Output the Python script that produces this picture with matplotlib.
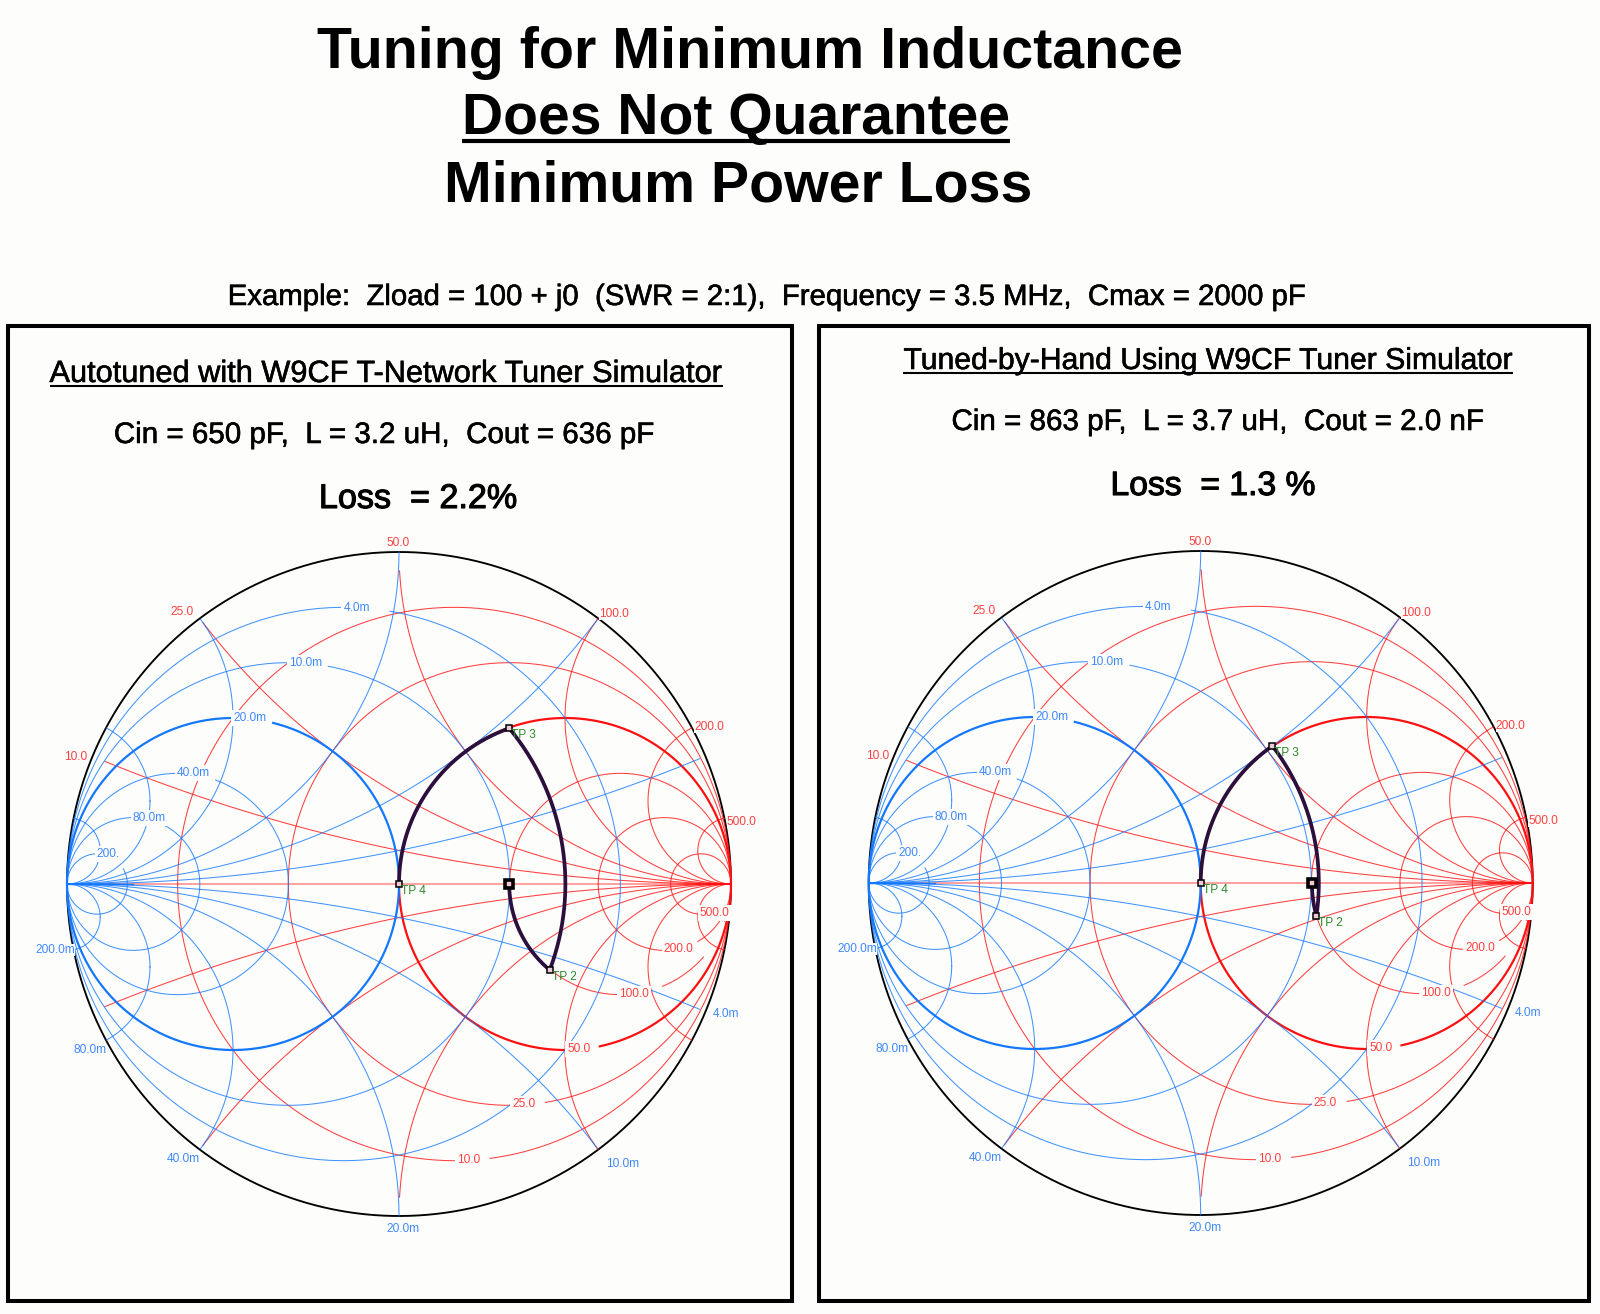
import numpy as np
import matplotlib
matplotlib.use("Agg")
import matplotlib.pyplot as plt
import matplotlib.patheffects as pe
from matplotlib.lines import Line2D
from matplotlib.patches import Rectangle

plt.rcParams["font.family"] = ["Liberation Sans", "DejaVu Sans"]

W, H = 1600, 1314
BG = "#fdfefc"
RED = "#ff1010"
BLUE = "#1478ff"
RED_TXT = "#ff4040"
BLUE_TXT = "#4088ff"
GREEN_TXT = "#2a8a2a"
TRACE = "#2c0f3c"

# Smith chart grid, normalised to 50 ohm / 20 mS
resistance = [0.2, 0.5, 1, 2, 4, 10]
resistance_labels = ["10.0", "25.0", "50.0", "100.0", "200.0", "500.0"]
reactance = [0.2, 0.5, 1, 2, 4, 10]
reactance_labels = ["10.0", "25.0", "50.0", "100.0", "200.0", "500.0"]
conductance = [0.2, 0.5, 1, 2, 4, 10]
conductance_labels = ["4.0m", "10.0m", "20.0m", "40.0m", "80.0m", "200."]
susceptance = [0.2, 0.5, 1, 2, 4, 10]
susceptance_labels = ["4.0m", "10.0m", "20.0m", "40.0m", "80.0m", "200.0m"]

# Tuner test points, as reflection coefficient (re, im)
left_tp4 = (0.0, 0.0)
left_tp3 = (0.332, 0.469)
left_tp2 = (0.454, -0.259)
left_load = (0.332, 0.0)

right_tp4 = (0.0, 0.0)
right_tp3 = (0.216, 0.413)
right_tp2 = (0.3485, -0.0994)
right_load = (0.335, 0.0)

# where each circle picks up again after its label (degrees)
r_gap = [-82.6, -80.7, -77.9, -67.6, -60, -10]
g_gap = [80.4, 79.6, 76, 70, 62, 30]

# label offsets in pixels from the point on the grid
x_offsets = [(-17, -1), (-18, 6), (-1, 9), (16, 4), (17, 1), (17, -4)]
b_offsets = [(21, -2), (24, -14), (4, -13), (-16, -9), (-16, -10), (-18, 0)]
g_offsets = [(13, -1), (17, 0), (17, 0), (16, 0), (16, 0), (11, 0)]


def circle(cx, cy, rad, start=0.0, stop=360.0):
    t = np.radians(np.linspace(start, stop, 720))
    return cx + rad * np.cos(t), cy + rad * np.sin(t)


def inside(xs, ys, limit=1.0):
    keep = xs ** 2 + ys ** 2 <= limit ** 2
    return np.where(keep, xs, np.nan), np.where(keep, ys, np.nan)


def arc_between(p, q):
    # circle through p and q with its centre on the real axis
    c = (p[0] ** 2 + p[1] ** 2 - q[0] ** 2 - q[1] ** 2) / (2 * (p[0] - q[0]))
    rad = np.hypot(p[0] - c, p[1])
    a = np.arctan2([p[1], q[1]], [p[0] - c, q[0] - c])
    a = np.unwrap(a)
    t = np.linspace(a[0], a[1], 200)
    return c + rad * np.cos(t), rad * np.sin(t)


def grid_label(ax, text, point, offset, color, pad=1.5):
    # rim labels get almost no box so they don't cut the black rim
    ax.annotate(
        text, xy=point, xytext=offset, textcoords="offset pixels",
        ha="center", va="center", fontsize=8.6, color=color, zorder=3,
        bbox=dict(facecolor=BG, edgecolor="none", pad=pad),
    )


def draw_smith(cx, cy, tp2, tp3, tp4, load):
    R = 332
    ax = fig.add_axes([(cx - R) / W, 1 - (cy + R) / H, 2 * R / W, 2 * R / H])
    ax.set_xlim(-1, 1)
    ax.set_ylim(-1, 1)
    ax.axis("off")
    thin = 0.75
    thick = 1.6
    soft = 0.8

    xs, ys = circle(0, 0, 1)
    ax.plot(xs, ys, color="black", lw=1.35, zorder=1, clip_on=False)

    # real axis
    ax.plot([-0.9, 1], [0, 0], color=RED, lw=1.1, alpha=0.5, zorder=2)
    ax.plot([-1, -0.8], [0, 0], color=BLUE, lw=1.0, zorder=2)

    for i, r in enumerate(resistance):
        xs, ys = circle(r / (1 + r), 0, 1 / (1 + r), r_gap[i], 270)
        if r == 2:
            # the 100 ohm circle also breaks under the 500.0 label box
            ang = np.degrees(np.arctan2(ys, xs - r / (1 + r)))
            xs = np.where((ang > -41) & (ang < -20), np.nan, xs)
        ax.plot(xs, ys, color=RED, lw=thick if r == 1 else thin,
                alpha=1 if r == 1 else soft, zorder=2, clip_on=False)
        grid_label(ax, resistance_labels[i], (r / (1 + r), -1 / (1 + r)), (14, 1), RED_TXT)

    for i, x in enumerate(reactance):
        for s in (1, -1):
            # the 50 ohm reactance arcs stop short of the rim
            xs, ys = inside(*circle(1, s / x, 1 / x), 0.95 if x == 1 else 1.0)
            ax.plot(xs, ys, color=RED, lw=thin, alpha=soft, zorder=2, clip_on=False)
        point = ((x ** 2 - 1) / (x ** 2 + 1), 2 * x / (x ** 2 + 1))
        grid_label(ax, reactance_labels[i], point, x_offsets[i], RED_TXT, pad=0)

    for i, g in enumerate(conductance):
        xs, ys = circle(-g / (1 + g), 0, 1 / (1 + g), 90, 360 + g_gap[i])
        ax.plot(xs, ys, color=BLUE, lw=thick if g == 1 else thin,
                alpha=1 if g == 1 else soft, zorder=2, clip_on=False)
        grid_label(ax, conductance_labels[i], (-g / (1 + g), 1 / (1 + g)), g_offsets[i], BLUE_TXT)

    for i, b in enumerate(susceptance):
        for s in (1, -1):
            xs, ys = inside(*circle(-1, s / b, 1 / b))
            ax.plot(xs, ys, color=BLUE, lw=thin, alpha=soft, zorder=2, clip_on=False)
        point = ((1 - b ** 2) / (1 + b ** 2), -2 * b / (1 + b ** 2))
        grid_label(ax, susceptance_labels[i], point, b_offsets[i], BLUE_TXT, pad=0)

    # tuner path
    for p, q in [(tp4, tp3), (tp3, tp2), (tp2, load)]:
        xs, ys = arc_between(p, q)
        ax.plot(xs, ys, color=TRACE, lw=2.7, zorder=4, solid_capstyle="round")
    for p in (tp2, tp3, tp4):
        ax.plot(*p, marker="s", ms=4, mfc="#f0c8d8", mec="black", mew=1.1, zorder=5)
    ax.plot(*load, marker="s", ms=6, mfc="#f0c8d8", mec="black", mew=2.6, zorder=5)

    for name, p in [("TP 2", tp2), ("TP 3", tp3), ("TP 4", tp4)]:
        ax.annotate(name, xy=p, xytext=(2, -7), textcoords="offset pixels",
                    ha="left", va="center", fontsize=8.6, color=GREEN_TXT, zorder=6)


def put_text(s, center_x, baseline_y, width, weight="normal", stroke=0.0):
    # font size is scaled so the line comes out at the width seen in the picture
    t = fig.text(center_x / W, 1 - baseline_y / H, s, ha="center", va="baseline",
                 fontsize=20, fontweight=weight, color="black")
    t.set_fontsize(20 * width / t.get_window_extent(fig.canvas.get_renderer()).width)
    if stroke:
        t.set_path_effects([pe.withStroke(linewidth=stroke, foreground="black")])
    return t


def underline(t, y, lw):
    box = t.get_window_extent(fig.canvas.get_renderer())
    fig.add_artist(Line2D([box.x0 / W, box.x1 / W], [1 - y / H, 1 - y / H],
                          color="black", lw=lw, solid_capstyle="butt"))


fig = plt.figure(figsize=(W / 100, H / 100), dpi=100, facecolor=BG)

# panel frames
for x0, x1 in [(8, 792), (819, 1589)]:
    fig.add_artist(Rectangle((x0 / W, 1 - 1301 / H), (x1 - x0) / W, 975 / H, fill=False,
                             edgecolor="black", lw=2.9, transform=fig.transFigure))

put_text("Tuning for Minimum Inductance", 750, 68, 866, "bold")
t = put_text("Does Not Quarantee", 736, 134, 548, "bold")
underline(t, 141, 3.0)
put_text("Minimum Power Loss", 738, 201, 588, "bold")
put_text("Example:  Zload = 100 + j0  (SWR = 2:1),  Frequency = 3.5 MHz,  Cmax = 2000 pF", 766, 305, 1078, stroke=0.4)

t = put_text("Autotuned with W9CF T-Network Tuner Simulator", 386, 382, 671, stroke=0.4)
underline(t, 386, 1.5)
put_text("Cin = 650 pF,  L = 3.2 uH,  Cout = 636 pF", 384, 443, 540, stroke=0.4)
put_text("Loss  = 2.2%", 418, 508, 198, stroke=0.8)

t = put_text("Tuned-by-Hand Using W9CF Tuner Simulator", 1208, 369, 608, stroke=0.4)
underline(t, 373, 1.5)
put_text("Cin = 863 pF,  L = 3.7 uH,  Cout = 2.0 nF", 1218, 430, 532, stroke=0.4)
put_text("Loss  = 1.3 %", 1213, 495, 205, stroke=0.8)

draw_smith(399, 884, left_tp2, left_tp3, left_tp4, left_load)
draw_smith(1200.7, 883, right_tp2, right_tp3, right_tp4, right_load)

fig.savefig("out.png", dpi=100, facecolor=BG)
